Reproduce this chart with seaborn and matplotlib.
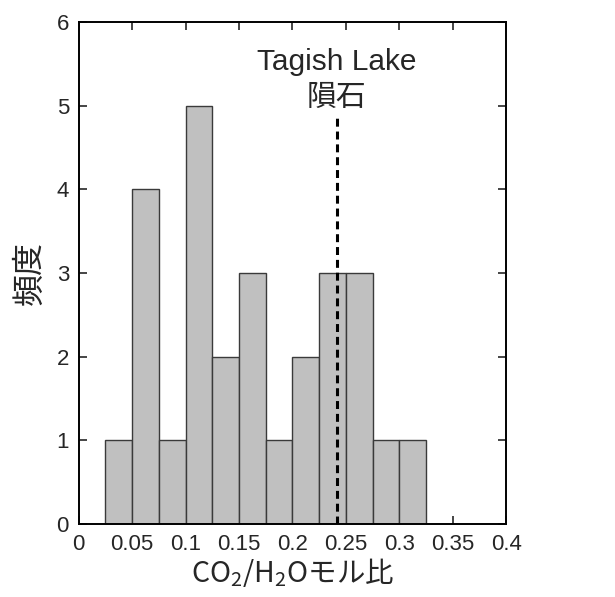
import numpy as np
import matplotlib
matplotlib.use("Agg")
import matplotlib.pyplot as plt
import matplotlib.ticker as mticker
import seaborn as sns

# histogram bins (CO2/H2O molar ratio) and counts
bin_edges = [0.025, 0.05, 0.075, 0.1, 0.125, 0.15, 0.175, 0.2, 0.225, 0.25, 0.275, 0.3, 0.325]
counts = [1, 4, 1, 5, 2, 3, 1, 2, 3, 3, 1, 1]

tagish_ratio = 0.2415
tagish_line_top = 4.85
tagish_label = "Tagish Lake\n隕石"

x_ticks = [0, 0.05, 0.1, 0.15, 0.2, 0.25, 0.3, 0.35, 0.4]
y_ticks = [0, 1, 2, 3, 4, 5, 6]

sns.set_style("ticks")
plt.rcParams["font.family"] = ["Liberation Sans", "Noto Sans CJK JP", "DejaVu Sans"]
plt.rcParams["mathtext.default"] = "regular"

centers = [(lo + hi) / 2 for lo, hi in zip(bin_edges[:-1], bin_edges[1:])]

fig = plt.figure(figsize=(6.15, 5.97), dpi=100)
ax = fig.add_axes([0.128, 0.122, 0.695, 0.841])

sns.histplot(x=centers, weights=counts, bins=bin_edges, ax=ax,
             color="#c0c0c0", alpha=1, edgecolor="#3a3a3a", linewidth=1.0)

# Tagish Lake meteorite marker
ax.vlines(tagish_ratio, 0, tagish_line_top, color="black", linewidth=2.2,
          linestyles=(0, (2.6, 1.6)))
ax.text(tagish_ratio, 5.31, tagish_label, ha="center", va="center",
        fontsize=21.5, linespacing=1.38)

ax.set_xlim(0, 0.4)
ax.set_ylim(0, 6)
ax.set_xticks(x_ticks)
ax.set_yticks(y_ticks)
ax.xaxis.set_major_formatter(mticker.FuncFormatter(lambda v, p: f"{v:g}"))

ax.tick_params(direction="in", length=6, width=1.2, labelsize=16,
               top=True, right=True, pad=7)
for s in ax.spines.values():
    s.set_linewidth(1.4)
    s.set_color("black")

ax.set_xlabel("CO$_2$/H$_2$Oモル比", fontsize=20.5, family="Noto Sans CJK JP", labelpad=1)
ax.set_ylabel("頻度", fontsize=23, labelpad=8)

fig.savefig("out.png", dpi=100)
